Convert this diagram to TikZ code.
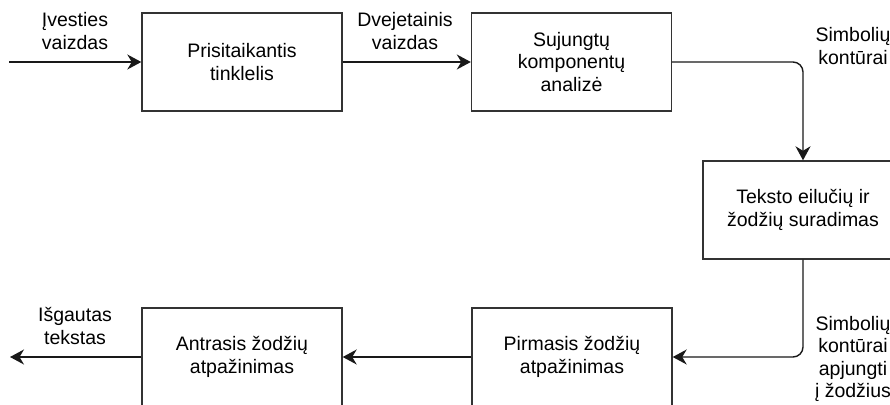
\documentclass[tikz,border=0pt]{standalone}
\usepackage{fontspec}
\setmainfont{Liberation Sans}
\usetikzlibrary{arrows.meta}
\begin{document}
\begin{tikzpicture}[x=1pt,y=-1pt,
  txt/.style={font=\fontsize{19.5}{22.5}\selectfont, align=center, inner sep=0pt},
  box/.style={txt, draw=black!80, line width=1.4pt, minimum width=200pt, minimum height=98pt},
  lbl/.style={txt},
  conn/.style={draw=black!90, line width=1.4pt, rounded corners=10pt,
    -{Stealth[length=14pt,width=15pt,inset=4.5pt]}}]
\useasboundingbox (0,0) rectangle (890,404);
\fill[white] (0,0) rectangle (890,404);
% boxes
\node[box] (b1) at (242,62) {Prisitaikantis\\tinklelis};
\node[box] (b2) at (571.5,62) {Sujungtų\\komponentų\\analizė};
\node[box] (b3) at (803,210) {Teksto eilučių ir\\žodžių suradimas};
\node[box] (b4) at (572,357) {Pirmasis žodžių\\atpažinimas};
\node[box] (b5) at (242,357) {Antrasis žodžių\\atpažinimas};
% free ends
\coordinate (in) at (9,62);
\coordinate (out) at (10,357);
% connectors
\draw[conn] (in) -- (b1.west);
\draw[conn] (b1.east) -- (b2.west);
\draw[conn] (b2.east) -| (b3.north);
\draw[conn] (b3.south) |- (b4.east);
\draw[conn] (b4.west) -- (b5.east);
\draw[conn] (b5.west) -- (out);
% labels
\node[lbl] (l1) at (75,31) {Įvesties\\vaizdas};
\node[lbl] (l2) at (405,31) {Dvejetainis\\vaizdas};
\node[lbl] (l3) at (853,46) {Simbolių\\kontūrai};
\node[lbl] (l4) at (853,359) {Simbolių\\kontūrai\\apjungti\\į žodžius};
\node[lbl] (l5) at (75,326) {Išgautas\\tekstas};
\end{tikzpicture}
\end{document}
